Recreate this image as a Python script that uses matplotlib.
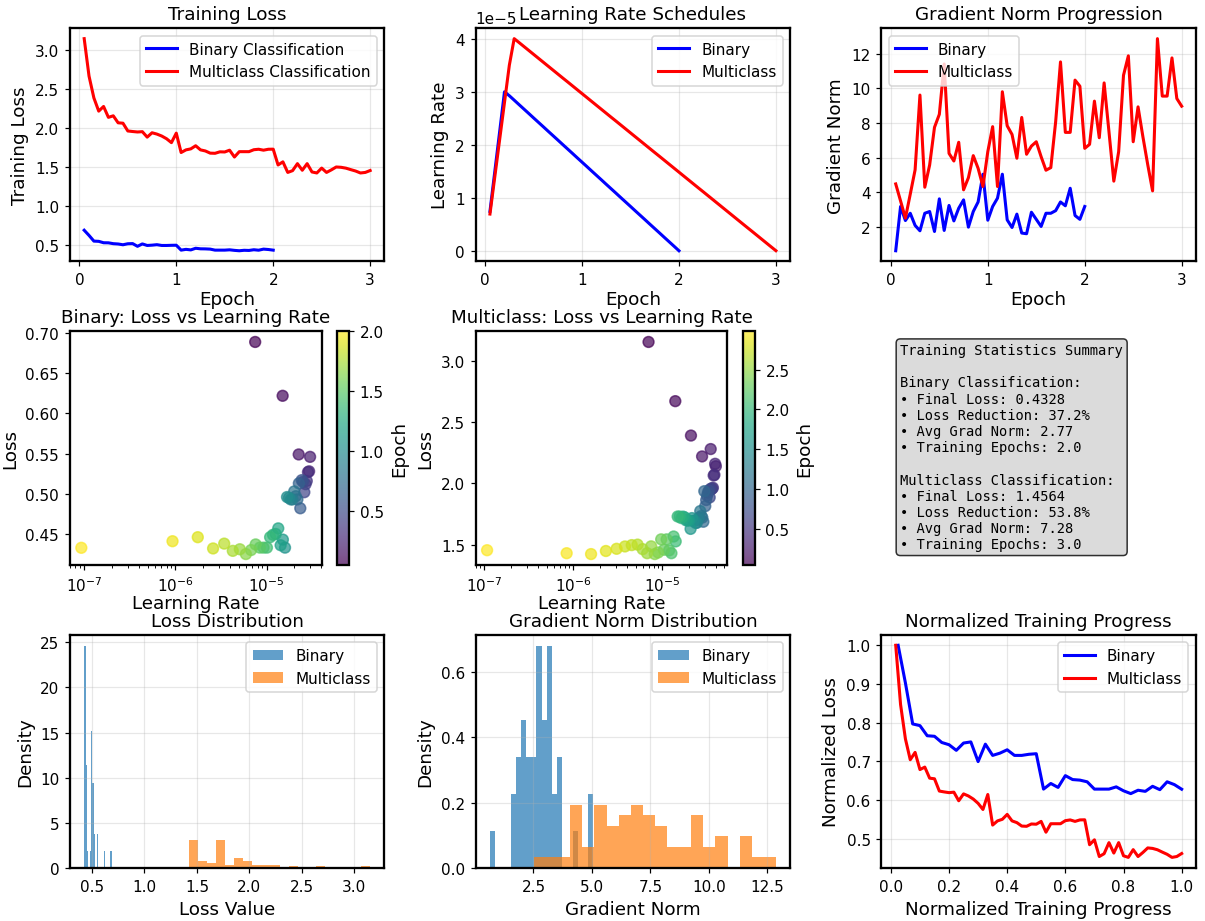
import numpy as np
import matplotlib
matplotlib.use("Agg")
import matplotlib.pyplot as plt

plt.rcParams['axes.linewidth'] = 1.5

# logged epochs (every 0.05 epoch)
binary_epochs = np.round(np.arange(1, 41) * 0.05, 2)
multi_epochs = np.round(np.arange(1, 61) * 0.05, 2)

binary_loss = [0.689, 0.622, 0.549, 0.546, 0.528, 0.527, 0.516, 0.512, 0.502, 0.515,
               0.517, 0.482, 0.513, 0.493, 0.497, 0.503, 0.493, 0.493, 0.495, 0.496,
               0.433, 0.443, 0.436, 0.457, 0.450, 0.449, 0.446, 0.433, 0.433, 0.433,
               0.437, 0.430, 0.425, 0.431, 0.429, 0.438, 0.432, 0.446, 0.441, 0.4328]

multi_loss = [3.152, 2.670, 2.390, 2.220, 2.280, 2.140, 2.160, 2.070, 2.065, 1.965,
              1.958, 1.952, 1.956, 1.886, 1.942, 1.925, 1.900, 1.865, 1.815, 1.937,
              1.688, 1.722, 1.735, 1.775, 1.722, 1.708, 1.680, 1.678, 1.697, 1.695,
              1.718, 1.630, 1.699, 1.699, 1.699, 1.724, 1.730, 1.718, 1.730, 1.731,
              1.528, 1.568, 1.432, 1.455, 1.545, 1.460, 1.545, 1.438, 1.425, 1.488,
              1.432, 1.465, 1.502, 1.498, 1.487, 1.468, 1.450, 1.425, 1.432, 1.4564]

# learning rates in units of 1e-5
binary_lr = [0.75, 1.50, 2.25, 3.00, 2.926, 2.843, 2.759, 2.676, 2.593, 2.509,
             2.426, 2.343, 2.259, 2.176, 2.093, 2.009, 1.926, 1.843, 1.759, 1.676,
             1.593, 1.509, 1.426, 1.343, 1.259, 1.176, 1.093, 1.009, 0.926, 0.843,
             0.759, 0.676, 0.593, 0.509, 0.426, 0.343, 0.259, 0.176, 0.093, 0.0093]

multi_lr = [0.70, 1.40, 2.10, 2.80, 3.50, 4.000, 3.927, 3.853, 3.779, 3.705,
            3.631, 3.557, 3.483, 3.409, 3.335, 3.261, 3.188, 3.114, 3.040, 2.966,
            2.892, 2.818, 2.744, 2.670, 2.596, 2.522, 2.449, 2.375, 2.301, 2.227,
            2.153, 2.079, 2.005, 1.931, 1.857, 1.784, 1.710, 1.636, 1.562, 1.488,
            1.414, 1.340, 1.266, 1.192, 1.119, 1.045, 0.971, 0.897, 0.823, 0.749,
            0.675, 0.601, 0.527, 0.453, 0.380, 0.306, 0.232, 0.158, 0.084, 0.0107]

binary_grad = [0.64, 3.19, 2.38, 2.80, 2.10, 1.79, 2.80, 2.90, 1.75, 3.63,
               1.81, 3.25, 2.36, 3.09, 3.57, 2.00, 2.90, 3.45, 5.05, 2.40,
               3.19, 3.67, 5.05, 2.42, 1.98, 2.75, 1.66, 1.62, 2.86, 2.45,
               2.04, 2.80, 2.80, 2.95, 3.45, 3.23, 4.24, 2.67, 2.45, 3.19]

multi_grad = [4.49, 3.51, 2.52, 3.90, 5.30, 9.61, 4.30, 5.58, 7.75, 8.50,
              11.40, 6.25, 5.81, 6.89, 4.15, 4.85, 6.12, 5.39, 4.34, 6.35,
              7.79, 4.34, 9.80, 7.84, 7.34, 5.97, 8.32, 6.20, 6.67, 6.92,
              6.06, 5.28, 5.43, 8.07, 11.52, 7.46, 7.46, 10.47, 10.12, 6.54,
              6.77, 9.26, 7.15, 10.31, 7.50, 4.65, 6.35, 10.75, 11.87, 6.92,
              8.93, 7.21, 5.60, 4.09, 12.86, 9.55, 9.55, 11.75, 9.41, 8.97]

summary_text = """Training Statistics Summary

Binary Classification:
• Final Loss: 0.4328
• Loss Reduction: 37.2%
• Avg Grad Norm: 2.77
• Training Epochs: 2.0

Multiclass Classification:
• Final Loss: 1.4564
• Loss Reduction: 53.8%
• Avg Grad Norm: 7.28
• Training Epochs: 3.0"""

binary_lr = np.array(binary_lr) * 1e-5
multi_lr = np.array(multi_lr) * 1e-5

fig, axes = plt.subplots(3, 3, figsize=(1205 / 110, 922 / 110), dpi=110)
plt.subplots_adjust(left=0.058, right=0.9925, top=0.9685, bottom=0.0575,
                    wspace=0.29, hspace=0.30)

# Training loss
ax = axes[0, 0]
ax.plot(binary_epochs, binary_loss, 'b-', label='Binary Classification', linewidth=2)
ax.plot(multi_epochs, multi_loss, 'r-', label='Multiclass Classification', linewidth=2)
ax.set_title('Training Loss', fontsize=12)
ax.set_xlabel('Epoch', fontsize=12, labelpad=2)
ax.set_ylabel('Training Loss', fontsize=12)
ax.legend()
ax.grid(True, alpha=0.3)

# Learning rate
ax = axes[0, 1]
ax.plot(binary_epochs, binary_lr, 'b-', label='Binary', linewidth=2)
ax.plot(multi_epochs, multi_lr, 'r-', label='Multiclass', linewidth=2)
ax.set_title('Learning Rate Schedules', fontsize=12)
ax.set_xlabel('Epoch', fontsize=12, labelpad=2)
ax.set_ylabel('Learning Rate', fontsize=12)
ax.legend()
ax.grid(True, alpha=0.3)

# Gradient norm
ax = axes[0, 2]
ax.plot(binary_epochs, binary_grad, 'b-', label='Binary', linewidth=2)
ax.plot(multi_epochs, multi_grad, 'r-', label='Multiclass', linewidth=2)
ax.set_title('Gradient Norm Progression', fontsize=12)
ax.set_xlabel('Epoch', fontsize=12, labelpad=2)
ax.set_ylabel('Gradient Norm', fontsize=12)
ax.legend()
ax.grid(True, alpha=0.3)

# Loss vs LR scatter
ax = axes[1, 0]
sc = ax.scatter(binary_lr, binary_loss, c=binary_epochs, cmap='viridis', alpha=0.7, s=50)
ax.set_xscale('log')
ax.set_title('Binary: Loss vs Learning Rate', fontsize=12)
ax.set_xlabel('Learning Rate', fontsize=12, labelpad=0)
ax.set_ylabel('Loss', fontsize=12)
fig.colorbar(sc, ax=ax).set_label('Epoch', fontsize=12)

ax = axes[1, 1]
sc = ax.scatter(multi_lr, multi_loss, c=multi_epochs, cmap='viridis', alpha=0.7, s=50,
                vmax=2.98)
ax.set_xscale('log')
ax.set_title('Multiclass: Loss vs Learning Rate', fontsize=12)
ax.set_xlabel('Learning Rate', fontsize=12, labelpad=0)
ax.set_ylabel('Loss', fontsize=12)
fig.colorbar(sc, ax=ax).set_label('Epoch', fontsize=12)

# Summary text
ax = axes[1, 2]
ax.axis('off')
ax.text(0.06, 0.95, summary_text, transform=ax.transAxes, fontsize=9,
        verticalalignment='top', fontfamily='monospace',
        bbox=dict(boxstyle='round', facecolor='lightgray', alpha=0.8))

# Loss distribution
ax = axes[2, 0]
ax.hist(binary_loss, bins=20, alpha=0.7, label='Binary', density=True)
ax.hist(multi_loss, bins=20, alpha=0.7, label='Multiclass', density=True)
ax.set_title('Loss Distribution', fontsize=12)
ax.set_xlabel('Loss Value', fontsize=12)
ax.set_ylabel('Density', fontsize=12)
ax.legend()
ax.grid(True, alpha=0.3)

# Gradient norm distribution
ax = axes[2, 1]
ax.hist(binary_grad, bins=20, alpha=0.7, label='Binary', density=True)
ax.hist(multi_grad, bins=20, alpha=0.7, label='Multiclass', density=True)
ax.set_title('Gradient Norm Distribution', fontsize=12)
ax.set_xlabel('Gradient Norm', fontsize=12)
ax.set_ylabel('Density', fontsize=12)
ax.legend()
ax.grid(True, alpha=0.3)

# Normalized progress
ax = axes[2, 2]
ax.plot(binary_epochs / binary_epochs[-1], np.array(binary_loss) / binary_loss[0],
        'b-', label='Binary', linewidth=2)
ax.plot(multi_epochs / multi_epochs[-1], np.array(multi_loss) / multi_loss[0],
        'r-', label='Multiclass', linewidth=2)
ax.set_title('Normalized Training Progress', fontsize=12)
ax.set_xlabel('Normalized Training Progress', fontsize=12)
ax.set_ylabel('Normalized Loss', fontsize=12)
ax.legend()
ax.grid(True, alpha=0.3)

plt.savefig('out.png', dpi=110)
